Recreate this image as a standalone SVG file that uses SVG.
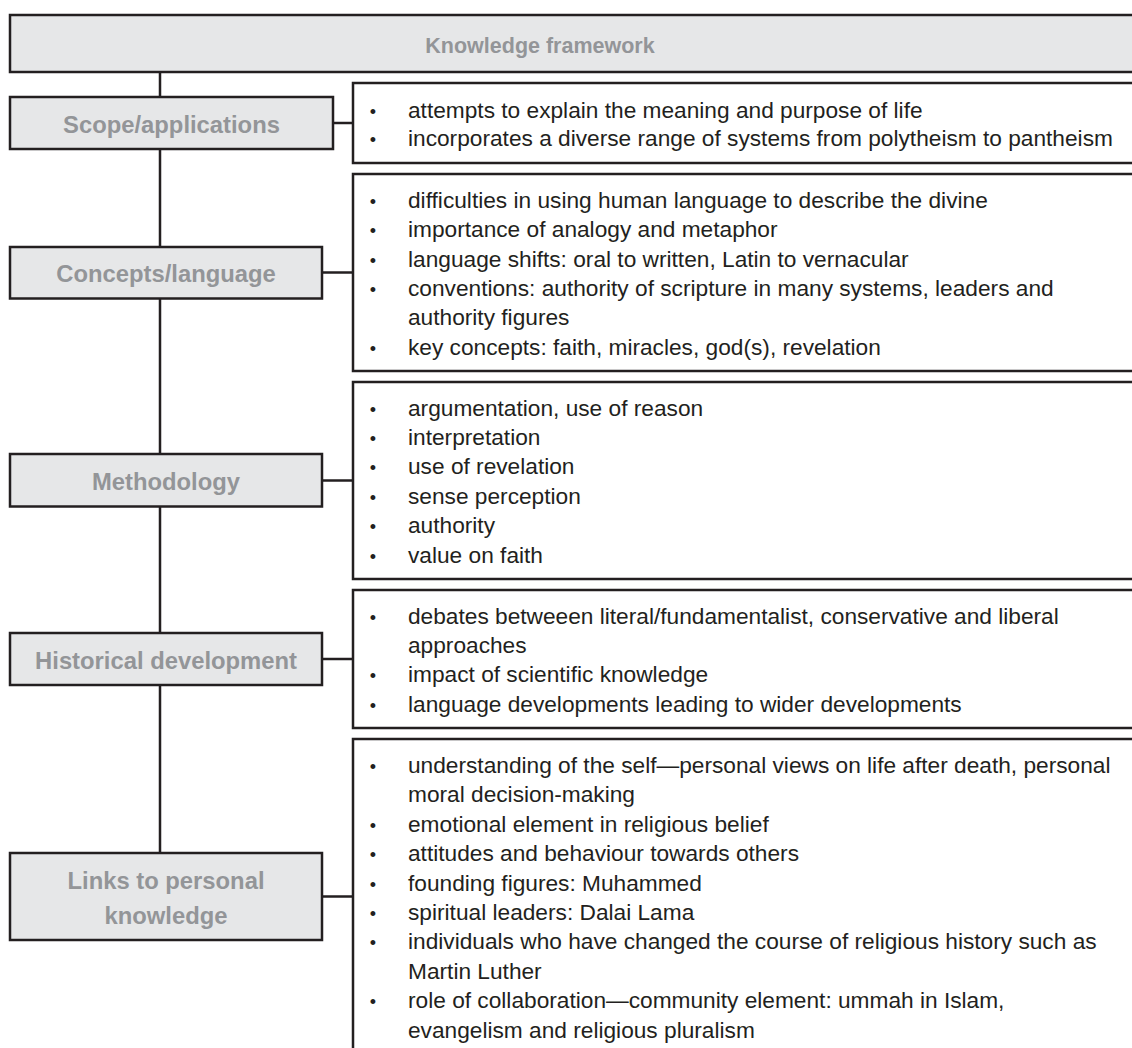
<svg xmlns="http://www.w3.org/2000/svg" width="1132" height="1048" viewBox="0 0 1132 1048">
<style>
.hdr{fill:#e6e7e8;stroke:#231f20;stroke-width:2.5}
.box{fill:#ffffff;stroke:#231f20;stroke-width:2.5}
.lbl{font-family:"Liberation Sans",Arial,sans-serif;font-weight:bold;font-size:23.8px;fill:#939598;text-anchor:middle}
.ttl{font-family:"Liberation Sans",Arial,sans-serif;font-weight:bold;font-size:21.5px;fill:#939598;text-anchor:middle}
.txt{font-family:"Liberation Sans",Arial,sans-serif;font-size:22.7px;fill:#231f20}
.bul{font-family:"Liberation Sans",Arial,sans-serif;font-size:18px;fill:#231f20;text-anchor:middle}
.con{stroke:#231f20;stroke-width:2.5;fill:none}
</style>
<rect width="1132" height="1048" fill="#ffffff"/>
<g id="connectors">
<line class="con" x1="160" y1="72" x2="160" y2="853"/>
<line class="con" x1="333" y1="123" x2="353" y2="123"/>
<line class="con" x1="322" y1="272.5" x2="353" y2="272.5"/>
<line class="con" x1="322" y1="480.5" x2="353" y2="480.5"/>
<line class="con" x1="322" y1="659" x2="353" y2="659"/>
<line class="con" x1="322" y1="896.5" x2="353" y2="896.5"/>
</g>
<g id="title">
<rect class="hdr" x="10" y="15" width="1140" height="57"/>
<text class="ttl" x="540" y="53">Knowledge framework</text>
</g>
<g id="scope">
<rect class="hdr" x="10" y="97" width="323" height="52"/>
<text class="lbl" x="171.5" y="132.5">Scope/applications</text>
</g>
<g id="scope-details">
<rect class="box" x="353" y="83" width="800" height="80"/>
<text class="bul" x="373" y="117.5">•</text><text class="txt" x="408" y="117.5">attempts to explain the meaning and purpose of life</text>
<text class="bul" x="373" y="146">•</text><text class="txt" x="408" y="146">incorporates a diverse range of systems from polytheism to pantheism</text>
</g>
<g id="concepts">
<rect class="hdr" x="10" y="247" width="312" height="51.5"/>
<text class="lbl" x="166" y="281.5">Concepts/language</text>
</g>
<g id="concepts-details">
<rect class="box" x="353" y="174" width="800" height="197"/>
<text class="bul" x="373" y="208">•</text><text class="txt" x="408" y="208">difficulties in using human language to describe the divine</text>
<text class="bul" x="373" y="237.3">•</text><text class="txt" x="408" y="237.3">importance of analogy and metaphor</text>
<text class="bul" x="373" y="266.6">•</text><text class="txt" x="408" y="266.6">language shifts: oral to written, Latin to vernacular</text>
<text class="bul" x="373" y="295.9">•</text><text class="txt" x="408" y="295.9">conventions: authority of scripture in many systems, leaders and</text>
<text class="txt" x="408" y="325.2">authority figures</text>
<text class="bul" x="373" y="354.5">•</text><text class="txt" x="408" y="354.5">key concepts: faith, miracles, god(s), revelation</text>
</g>
<g id="methodology">
<rect class="hdr" x="10" y="454" width="312" height="52.5"/>
<text class="lbl" x="166" y="490">Methodology</text>
</g>
<g id="methodology-details">
<rect class="box" x="353" y="382" width="800" height="197"/>
<text class="bul" x="373" y="415.5">•</text><text class="txt" x="408" y="415.5">argumentation, use of reason</text>
<text class="bul" x="373" y="444.9">•</text><text class="txt" x="408" y="444.9">interpretation</text>
<text class="bul" x="373" y="474.3">•</text><text class="txt" x="408" y="474.3">use of revelation</text>
<text class="bul" x="373" y="503.7">•</text><text class="txt" x="408" y="503.7">sense perception</text>
<text class="bul" x="373" y="533.1">•</text><text class="txt" x="408" y="533.1">authority</text>
<text class="bul" x="373" y="562.5">•</text><text class="txt" x="408" y="562.5">value on faith</text>
</g>
<g id="historical">
<rect class="hdr" x="10" y="633" width="312" height="52"/>
<text class="lbl" x="166" y="669">Historical development</text>
</g>
<g id="historical-details">
<rect class="box" x="353" y="590" width="800" height="138"/>
<text class="bul" x="373" y="623.5">•</text><text class="txt" x="408" y="623.5">debates betweeen literal/fundamentalist, conservative and liberal</text>
<text class="txt" x="408" y="652.9">approaches</text>
<text class="bul" x="373" y="682.3">•</text><text class="txt" x="408" y="682.3">impact of scientific knowledge</text>
<text class="bul" x="373" y="711.7">•</text><text class="txt" x="408" y="711.7">language developments leading to wider developments</text>
</g>
<g id="links">
<rect class="hdr" x="10" y="853" width="312" height="87"/>
<text class="lbl" x="166" y="888.5">Links to personal</text>
<text class="lbl" x="166" y="923.5">knowledge</text>
</g>
<g id="links-details">
<rect class="box" x="353" y="739" width="800" height="330"/>
<text class="bul" x="373" y="773">•</text><text class="txt" x="408" y="773">understanding of the self—personal views on life after death, personal</text>
<text class="txt" x="408" y="802.4">moral decision-making</text>
<text class="bul" x="373" y="831.8">•</text><text class="txt" x="408" y="831.8">emotional element in religious belief</text>
<text class="bul" x="373" y="861.2">•</text><text class="txt" x="408" y="861.2">attitudes and behaviour towards others</text>
<text class="bul" x="373" y="890.6">•</text><text class="txt" x="408" y="890.6">founding figures: Muhammed</text>
<text class="bul" x="373" y="920">•</text><text class="txt" x="408" y="920">spiritual leaders: Dalai Lama</text>
<text class="bul" x="373" y="949.4">•</text><text class="txt" x="408" y="949.4">individuals who have changed the course of religious history such as</text>
<text class="txt" x="408" y="978.8">Martin Luther</text>
<text class="bul" x="373" y="1008.2">•</text><text class="txt" x="408" y="1008.2">role of collaboration—community element: ummah in Islam,</text>
<text class="txt" x="408" y="1037.6">evangelism and religious pluralism</text>
</g>
</svg>
